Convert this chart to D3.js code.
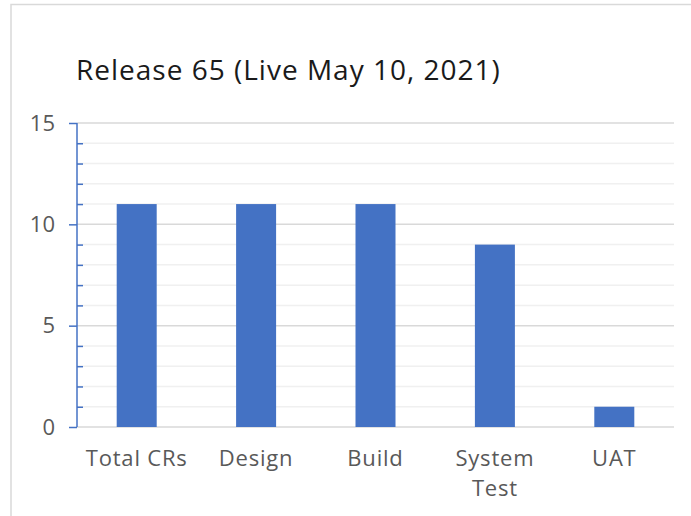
<!DOCTYPE html>
<html>
<head>
<meta charset="utf-8">
<script src="https://cdn.jsdelivr.net/npm/d3@7"></script>
<style>
  html, body { margin: 0; padding: 0; background: #fff; }
  svg { display: block; }
</style>
</head>
<body>
<div id="chart"></div>
<script>
const titleText = "Release 65 (Live May 10, 2021)";
const categories = [["Total CRs"], ["Design"], ["Build"], ["System", "Test"], ["UAT"]];
const values = [11, 11, 11, 9, 1];
const majorTicks = [0, 5, 10, 15];
const minorTicks = [0,1,2,3,4,5,6,7,8,9,10,11,12,13,14,15];

(function () {
const W = 691, H = 516;
const fontFam = "'Open Sans', 'DejaVu Sans', sans-serif";
const svg = d3.select("#chart").append("svg").attr("width", W).attr("height", H);

// outer chart border
svg.append("rect").attr("x", 11).attr("y", 4.5).attr("width", 720).attr("height", 560)
  .attr("fill", "#fff").attr("stroke", "#d9d9d9").attr("stroke-width", 1.5);

const pL = 77, pR = 674, pT = 123, pB = 427;
const keys = categories.map(c => c.join(" "));
const x = d3.scaleBand().domain(keys).range([pL, pR]).paddingInner(0.665).paddingOuter(0.665 / 2);
const y = d3.scaleLinear().domain([0, 15]).range([pB, pT]);

// minor gridlines
svg.append("g").selectAll("line").data(minorTicks.filter(t => t % 5 !== 0)).join("line")
  .attr("x1", pL).attr("x2", pR).attr("y1", d => y(d)).attr("y2", d => y(d))
  .attr("stroke", "#f0f0f0").attr("stroke-width", 1.5);
// major gridlines
svg.append("g").selectAll("line").data(majorTicks).join("line")
  .attr("x1", pL).attr("x2", pR).attr("y1", d => y(d)).attr("y2", d => y(d))
  .attr("stroke", "#d9d9d9").attr("stroke-width", 1.5);

// bars
svg.append("g").selectAll("rect").data(values).join("rect")
  .attr("x", (d, i) => x(keys[i])).attr("width", x.bandwidth())
  .attr("y", d => y(d)).attr("height", d => y(0) - y(d))
  .attr("fill", "#4472C4");

// y axis
const yAxis = d3.axisLeft(y).tickValues(majorTicks).tickSize(8).tickPadding(14).tickFormat(d3.format("d"));
const gy = svg.append("g").attr("transform", `translate(${pL},0)`).call(yAxis);
gy.select(".domain").attr("stroke", "#4472C4").attr("stroke-width", 1.5).attr("d", `M0,${pT}V${pB}`);
gy.selectAll(".tick line").attr("stroke", "#4472C4").attr("stroke-width", 1.5);
gy.selectAll(".tick text").attr("fill", "#595959").style("font-family", fontFam).style("font-size", "22px");
// minor ticks (inside)
const yMinor = d3.axisRight(y).tickValues(minorTicks.filter(t => t % 5 !== 0)).tickSize(6).tickFormat("");
const gm = svg.append("g").attr("transform", `translate(${pL},0)`).call(yMinor);
gm.select(".domain").remove();
gm.selectAll(".tick line").attr("stroke", "#4472C4").attr("stroke-width", 1.5);

// x labels
const gx = svg.append("g");
categories.forEach((lines, i) => {
  const cx = x(keys[i]) + x.bandwidth() / 2;
  const t = gx.append("text").attr("x", cx).attr("y", 466).attr("text-anchor", "middle")
    .attr("fill", "#595959").style("font-family", fontFam).style("font-size", "22px")
    .style("letter-spacing", "0.8px");
  lines.forEach((ln, j) => t.append("tspan").attr("x", cx).attr("dy", j === 0 ? 0 : 30).text(ln));
});

// title
svg.append("text").attr("x", 76).attr("y", 80).text(titleText)
  .attr("fill", "#1a1a1a").style("font-family", fontFam).style("font-size", "28px")
  .style("letter-spacing", "1px");
})();
</script>
</body>
</html>
